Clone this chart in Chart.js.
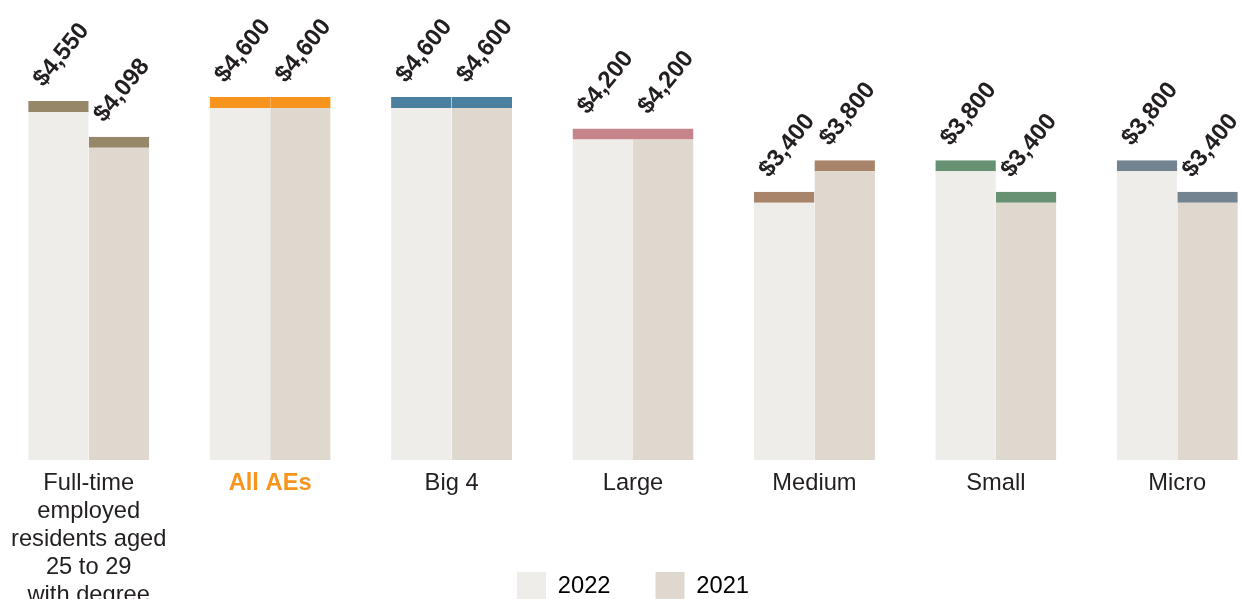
<!DOCTYPE html>
<html>
<head>
<meta charset="utf-8">
<script src="https://cdn.jsdelivr.net/npm/chart.js@4/dist/chart.umd.min.js"></script>
<style>
  html, body { margin: 0; padding: 0; background: #fff; overflow: hidden; }
  #wrap { position: absolute; left: -2px; top: 0; width: 1270px; height: 610px; }
</style>
</head>
<body>
<div id="wrap"><canvas id="salaryChart"></canvas></div>
<script>
const categories = [
  ['Full-time', 'employed', 'residents aged', '25 to 29', 'with degree'],
  'All AEs', 'Big 4', 'Large', 'Medium', 'Small', 'Micro'
];
const seriesNames = ['2022', '2021'];
const values2022 = [4550, 4600, 4600, 4200, 3400, 3800, 3800];
const values2021 = [4098, 4600, 4600, 4200, 3800, 3400, 3400];
const capColors = ['#978769', '#F7941D', '#4A7FA0', '#C6858B', '#A8846A', '#689174', '#738490'];
const fill2022 = '#EEEDE9';
const fill2021 = '#DFD8CF';

const fontFamily = '"Liberation Sans", Arial, Helvetica, sans-serif';
const textColor = '#231F20';

// value labels, rotated above each bar
const valueLabels = {
  id: 'valueLabels',
  afterLayout(chart) {
    // let the multi-line tick label run past the legend row instead of being clipped
    chart.scales.x.bottom = chart.height;
  },
  afterDatasetsDraw(chart) {
    const ctx = chart.ctx;
    ctx.save();
    ctx.font = 'bold 24px ' + fontFamily;
    ctx.fillStyle = textColor;
    ctx.textAlign = 'center';
    ctx.textBaseline = 'middle';
    chart.data.datasets.forEach((ds, di) => {
      chart.getDatasetMeta(di).data.forEach((bar, i) => {
        const txt = '$' + ds.data[i].toLocaleString('en-US');
        ctx.save();
        ctx.translate(bar.x + 3, bar.y - 46);
        ctx.rotate(-51 * Math.PI / 180);
        ctx.fillText(txt, 0, 0);
        ctx.restore();
      });
    });
    ctx.restore();
  }
};

const ctx = document.getElementById('salaryChart').getContext('2d');
new Chart(ctx, {
  type: 'bar',
  data: {
    labels: categories,
    datasets: [
      {
        label: seriesNames[0],
        data: values2022,
        backgroundColor: fill2022,
        borderColor: capColors,
        borderWidth: { top: 11, left: 0, right: 0, bottom: 0 },
        borderSkipped: false
      },
      {
        label: seriesNames[1],
        data: values2021,
        backgroundColor: fill2021,
        borderColor: capColors,
        borderWidth: { top: 11, left: 0, right: 0, bottom: 0 },
        borderSkipped: false
      }
    ]
  },
  options: {
    responsive: true,
    maintainAspectRatio: false,
    animation: false,
    layout: { padding: 0 },
    datasets: {
      bar: { barPercentage: 1, categoryPercentage: 0.667 }
    },
    scales: {
      x: {
        grid: { display: false, drawTicks: false },
        border: { display: false },
        ticks: {
          autoSkip: false,
          maxRotation: 0,
          padding: 9,
          color: (c) => c.index === 1 ? '#F7941D' : textColor,
          font: (c) => ({
            family: fontFamily,
            size: 23.7,
            weight: c.index === 1 ? 'bold' : 'normal',
            lineHeight: '28px'
          })
        },
        afterFit(scale) {
          scale.height = 67;
          scale.paddingLeft = 0;
          scale.paddingRight = 0;
        }
      },
      y: {
        display: false,
        min: 0,
        max: 5830
      }
    },
    plugins: {
      legend: {
        position: 'bottom',
        labels: {
          boxWidth: 29,
          boxHeight: 28,
          padding: 45,
          color: textColor,
          font: { family: fontFamily, size: 23.7 },
          generateLabels: () => [
            { text: seriesNames[0], fillStyle: fill2022, strokeStyle: 'rgba(0,0,0,0)', lineWidth: 0, datasetIndex: 0 },
            { text: seriesNames[1], fillStyle: fill2021, strokeStyle: 'rgba(0,0,0,0)', lineWidth: 0, datasetIndex: 1 }
          ]
        }
      },
      tooltip: { enabled: false }
    }
  },
  plugins: [valueLabels]
});
</script>
</body>
</html>
